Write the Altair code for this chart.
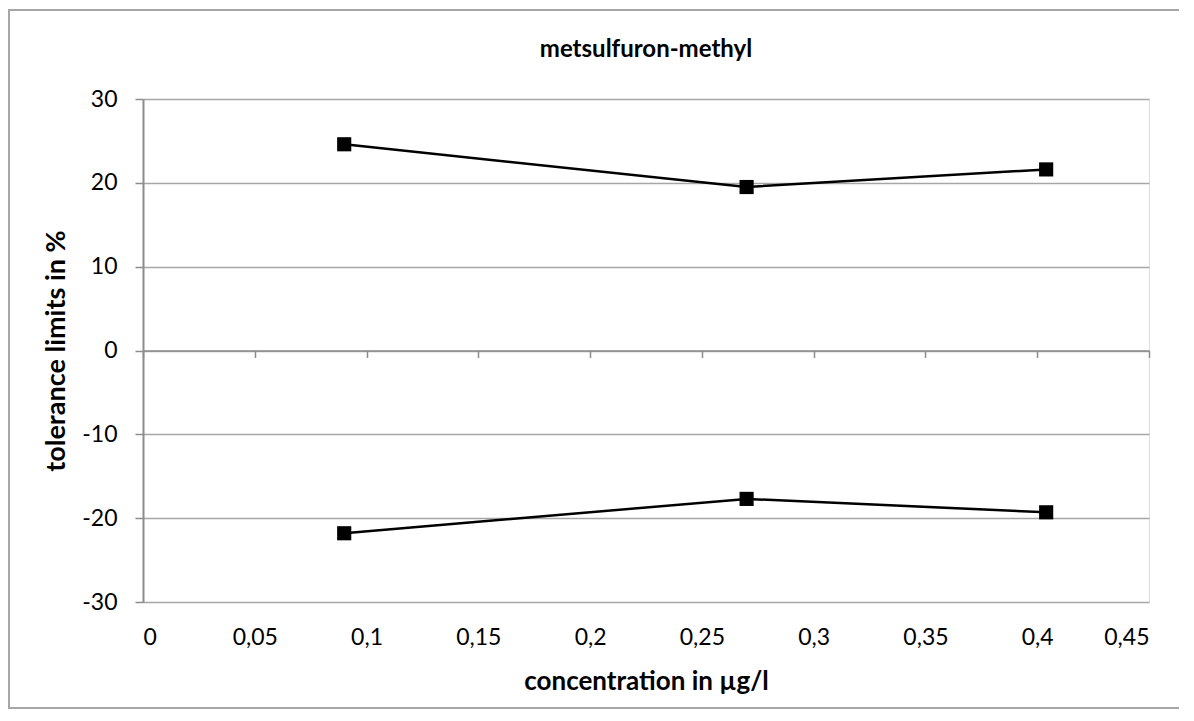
import altair as alt
import pandas as pd

conc = [0.09, 0.27, 0.404]
upper = [24.6, 19.5, 21.6]
lower = [-21.8, -17.7, -19.3]

x_ticks = [0, 0.05, 0.1, 0.15, 0.2, 0.25, 0.3, 0.35, 0.4, 0.45]
y_ticks = [-30, -20, -10, 0, 10, 20, 30]
chart_title = ["metsulfuron-methyl"]

df = pd.DataFrame({
    "conc": conc * 2,
    "value": upper + lower,
    "series": ["upper"] * len(conc) + ["lower"] * len(conc),
})

FONT = "Lato"
GRID = "#a6a6a6"
AXC = "#8c8c8c"
W, H = 1006, 503

xscale = alt.Scale(domain=[0, 0.45], nice=False, zero=False)
yscale = alt.Scale(domain=[-30, 30], nice=False)

lines = alt.Chart(df).mark_line(
    color="black", strokeWidth=2.5,
    point=alt.OverlayMarkDef(shape="square", filled=True, color="black", size=200, opacity=1),
).encode(
    x=alt.X("conc:Q", scale=xscale,
            axis=alt.Axis(values=x_ticks, title="concentration in µg/l",
                          labelExpr="replace(format(datum.value, '~g'), '.', ',')",
                          ticks=False, domain=False, grid=False,
                          labelFontSize=23, labelPadding=24, labelColor="black",
                          labelFont=FONT, titleFont=FONT, titleFontSize=26,
                          titleFontWeight="bold", titleColor="black", titlePadding=19)),
    y=alt.Y("value:Q", scale=yscale,
            axis=alt.Axis(values=y_ticks, title="tolerance limits in %",
                          labelExpr="'' + datum.value",
                          tickSize=8, tickColor=AXC, tickWidth=1.5,
                          domainColor=AXC, domainWidth=2,
                          gridColor=GRID, gridWidth=1.5,
                          labelFontSize=23, labelPadding=18, labelColor="black",
                          labelFont=FONT, titleFont=FONT, titleFontSize=27,
                          titleFontWeight="bold", titleColor="black", titlePadding=11)),
    detail="series:N",
)

zero_df = pd.DataFrame({"conc": [0.0]})
zero_axis = alt.Chart(zero_df).mark_point(opacity=0).encode(
    x=alt.X("conc:Q", scale=xscale,
            axis=alt.Axis(values=x_ticks, orient="bottom", offset=-251.5,
                          labels=False, title=None, grid=False,
                          tickSize=7, tickColor=AXC, tickWidth=1.5,
                          domainColor=AXC, domainWidth=1.5)),
)

frame = alt.Chart(pd.DataFrame({"a": [0]})).mark_rect(
    fill="transparent", stroke="#a6a6a6", strokeWidth=2
).encode(
    x=alt.value(-134), x2=alt.value(1044), y=alt.value(-89), y2=alt.value(609)
)

title = alt.Chart(pd.DataFrame({"t": chart_title})).mark_text(
    font=FONT, fontSize=24, fontWeight="bold", color="black",
    align="center", baseline="middle"
).encode(
    text="t:N", x=alt.value(W / 2), y=alt.value(-49)
)

chart = alt.layer(frame, title, lines, zero_axis).resolve_axis(x="independent").properties(
    width=W,
    height=H,
    padding={"left": 135, "top": 91, "right": 30, "bottom": 108},
    autosize=alt.AutoSizeParams(type="none"),
).configure_view(stroke=AXC, strokeWidth=2).configure(background="white")

chart.save("out.html", embed_options={"renderer": "svg", "actions": False})
